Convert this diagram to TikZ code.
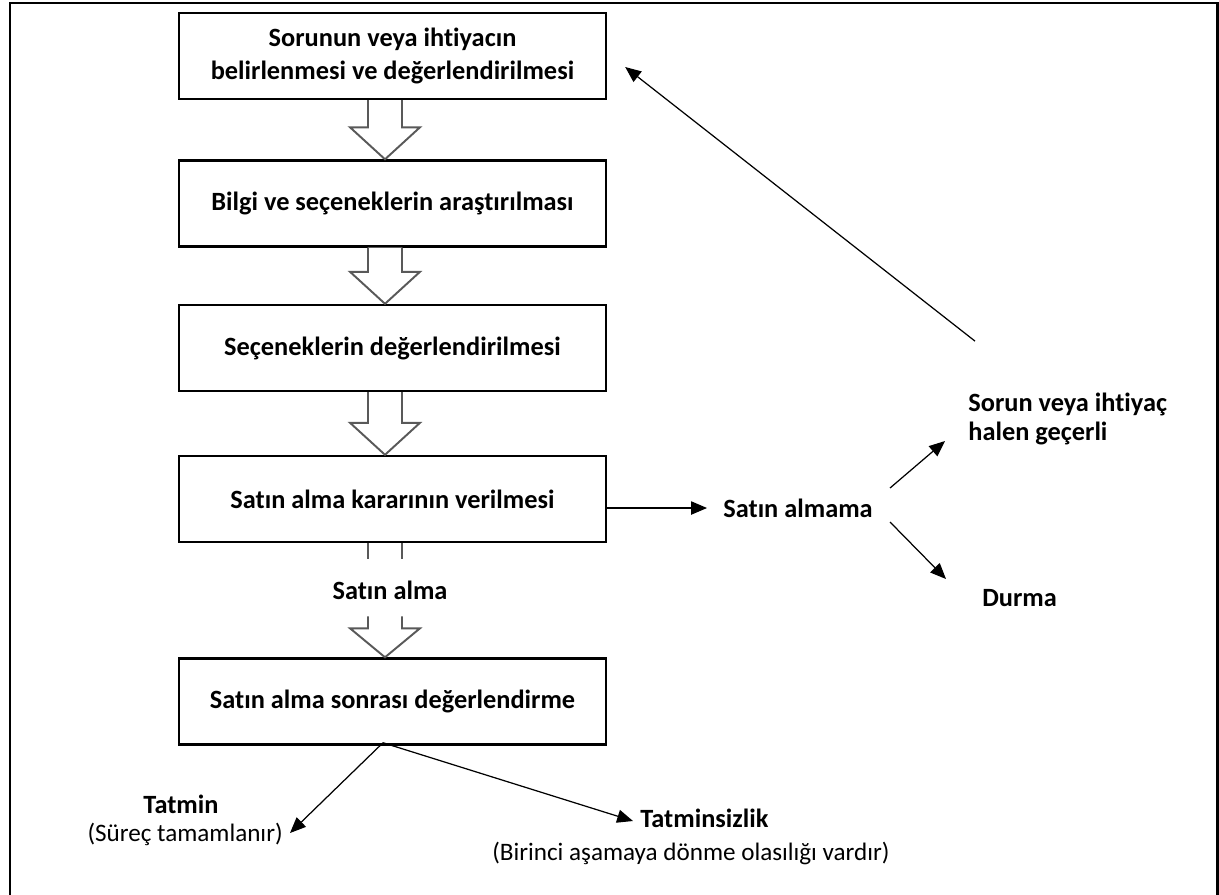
\documentclass[tikz,border=0pt]{standalone}
\usepackage{fontspec}
\setmainfont{Carlito}[Ligatures=CommonOff]
\usetikzlibrary{calc,positioning,arrows.meta}
\newcommand\kdbold{\fontsize{15}{19.3}\selectfont\bfseries}
\newcommand\kdplain{\fontsize{14.3}{17}\selectfont}
\tikzset{
 kd frame/.style={line width=1.5pt},
 kd box/.style={draw=black,line width=1.4pt,minimum width=8.54cm,
                minimum height=1.72cm,align=center,font=\kdbold,inner sep=0pt},
 kd block/.style={draw=black!65,line width=1.1pt,fill=white},
 kd arrow/.style={line width=0.7pt,-{Triangle[length=9pt,width=7.5pt]}},
 kd label/.style={font=\kdbold,inner sep=0pt},
 kd note/.style={font=\kdplain,inner sep=0pt}
}
\begin{document}
\begin{tikzpicture}[x=0.02cm,y=-0.02cm]
 \useasboundingbox (0,0) rectangle (1219,894);
 \draw[kd frame] (10,900) |- (1217.5,3) -- (1217.5,900);
 % steps
 \node[kd box] (s1) at (392.5,56) {Sorunun veya ihtiyacın\\belirlenmesi ve değerlendirilmesi};
 \node[kd box] (s2) at (392.5,203.5) {Bilgi ve seçeneklerin araştırılması};
 \node[kd box] (s3) at (392.5,348) {Seçeneklerin değerlendirilmesi};
 \node[kd box] (s4) at (392.5,499) {Satın alma kararının verilmesi};
 \node[kd box] (s5) at (392.5,701.5) {Satın alma sonrası değerlendirme};
 \foreach \a/\b in {s1/s2,s2/s3,s3/s4}{
   \draw[kd block] ($(\a.south)+(-24.5,0)$) |- ($(\b.north)+(-42.5,-32)$)
     -- ($(\b.north)+(-7.5,0)$) -- ($(\b.north)+(27.5,-32)$) -| ($(\a.south)+(9.5,0)$);
 }
 \node[kd label] (buy) at (390,590) {Satın alma};
 \foreach \dx in {-24.5,9.5}{\draw[kd block] ($(s4.south)+(\dx,0)$) -- ++(0,16);}
 \draw[kd block] ($(s5.north)+(-24.5,-41)$) |- ($(s5.north)+(-42.5,-29)$)
   -- ($(s5.north)+(-7.5,0)$) -- ($(s5.north)+(27.5,-29)$) -| ($(s5.north)+(9.5,-41)$);
 % not buying
 \node[kd label,anchor=west] (nobuy) at (723,508) {Satın almama};
 \node[kd label,anchor=west,align=left,font=\fontsize{15}{16}\selectfont\bfseries]
   (still) at (968,419) {Sorun veya ihtiyaç\\halen geçerli};
 \node[kd label,anchor=west] (stop) at (982,598) {Durma};
 \draw[kd arrow,shorten >=0.32cm] (s4.east |- nobuy.west) -- (nobuy.west);
 \draw[kd arrow] ($(nobuy.east)+(17,-20)$) -- ($(still.west)+(-23,22)$);
 \draw[kd arrow] ($(nobuy.east)+(17,14)$) -- ($(stop.west)+(-36,-19)$);
 \draw[kd arrow] ($(still.north west)+(7,-52)$) -- ($(s1.east)+(18,11)$);
 % after purchase
 \node[kd label] (sat) at (181,804) {Tatmin};
 \node[kd note,anchor=east] (satnote) at (283,834) {(Süreç tamamlanır)};
 \node[kd label,anchor=west] (dis) at (640,818) {Tatminsizlik};
 \node[kd note,anchor=west] (disnote) at (492,853) {(Birinci aşamaya dönme olasılığı vardır)};
 \draw[kd arrow] ($(s5.south)+(-9.5,-3)$) -- ($(satnote.east)+(7,-1)$);
 \draw[kd arrow] ($(s5.south)+(-9.5,-3)$) -- ($(dis.west)+(-7,3)$);
\end{tikzpicture}
\end{document}
